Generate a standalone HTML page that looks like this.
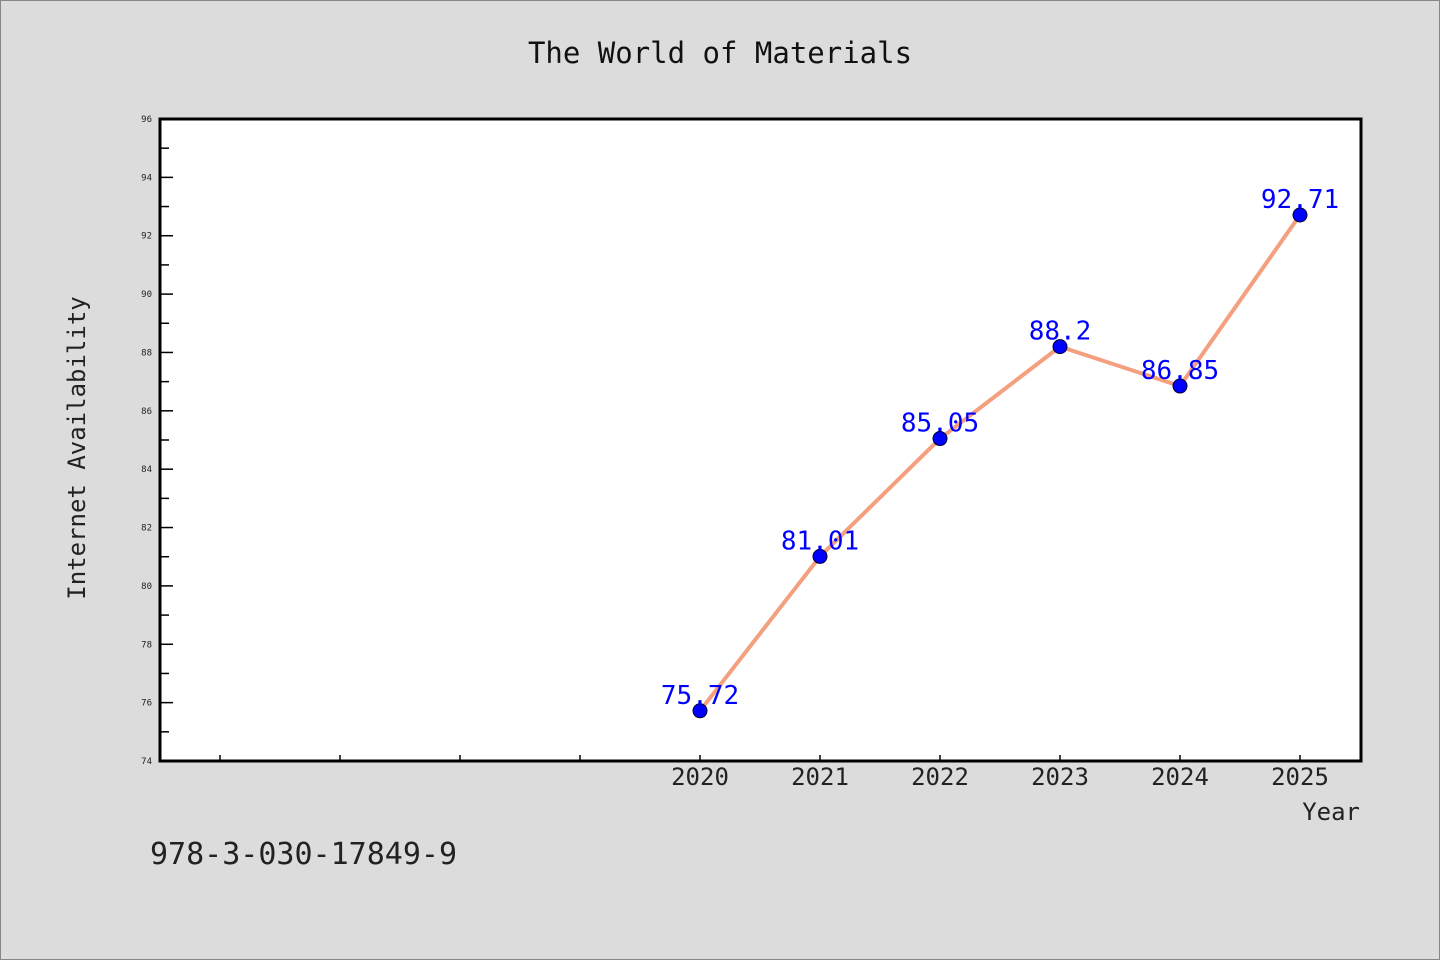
<!DOCTYPE html>
<html><head><meta charset="utf-8"><style>
body{margin:0;background:#dcdcdc}
svg{display:block}
text{font-family:"DejaVu Sans Mono","Liberation Mono",monospace}
</style></head><body>
<svg width="1440" height="960">
<rect x="0.5" y="0.5" width="1439" height="959" fill="#dcdcdc" stroke="#888"/>
<text x="720" y="63" text-anchor="middle" font-size="29" fill="#111">The World of Materials</text>
<rect x="160" y="119" width="1201" height="642" fill="#fff"/>
<g id="ticks"></g>
<g id="series"></g>
<rect x="160" y="119" width="1201" height="642" fill="none" stroke="#000" stroke-width="3"/>
<text x="85" y="448" text-anchor="middle" font-size="24" fill="#222" transform="rotate(-90 85 448)">Internet Availability</text>
<text x="1360" y="820" text-anchor="end" font-size="24" fill="#222">Year</text>
<text x="150" y="864" font-size="30" fill="#222">978-3-030-17849-9</text>
</svg>
<script>
const years=[2020,2021,2022,2023,2024,2025];
const values=[75.72,81.01,85.05,88.2,86.85,92.71];
const valueLabels=["75.72","81.01","85.05","88.2","86.85","92.71"];
const xTickYears=[2016,2017,2018,2019,2020,2021,2022,2023,2024,2025];
const yTickLabels=[74,76,78,80,82,84,86,88,90,92,94,96];
const NS="http://www.w3.org/2000/svg";
const X=v=>160+(v-2015.5)*120;
const Y=v=>761-(v-74)*(642/22);
function mk(t,a,p){const e=document.createElementNS(NS,t);for(const k in a)e.setAttribute(k,a[k]);p.appendChild(e);return e;}
const tg=document.getElementById('ticks');
for(let v=74;v<=96;v++){
 const major=v%2===0;
 const l=mk('line',{x1:160,x2:160+(major?13:9),y1:Y(v),y2:Y(v),stroke:'#000','stroke-width':1.5},tg);
 
 
}
yTickLabels.forEach(v=>{
 const t=mk('text',{x:152,y:Y(v)+3,'text-anchor':'end','font-size':9,fill:'#222'},tg);
 t.textContent=v;
 
 
});
xTickYears.forEach(v=>{
 const l=mk('line',{x1:X(v),x2:X(v),y1:761,y2:755,stroke:'#000','stroke-width':1.5},tg);
 
 
});
years.forEach(v=>{
 const t=mk('text',{x:X(v),y:785,'text-anchor':'middle','font-size':24,fill:'#222'},tg);
 t.textContent=v;
 
 
});
const sg=document.getElementById('series');
const pl=mk('polyline',{points:years.map((y,i)=>X(y)+','+Y(values[i])).join(' '),fill:'none',stroke:'#f4a07f','stroke-width':4,'stroke-linejoin':'round'},sg);


years.forEach((y,i)=>{
 const c=mk('circle',{cx:X(y),cy:Y(values[i]),r:7,fill:'#0000ff',stroke:'#000033','stroke-width':1},sg);
 
 
 const t=mk('text',{x:X(y),y:Y(values[i])-7,'text-anchor':'middle','font-size':26,fill:'#0000ff'},sg);
 t.textContent=valueLabels[i];
 
 
});
</script>
</body></html>
